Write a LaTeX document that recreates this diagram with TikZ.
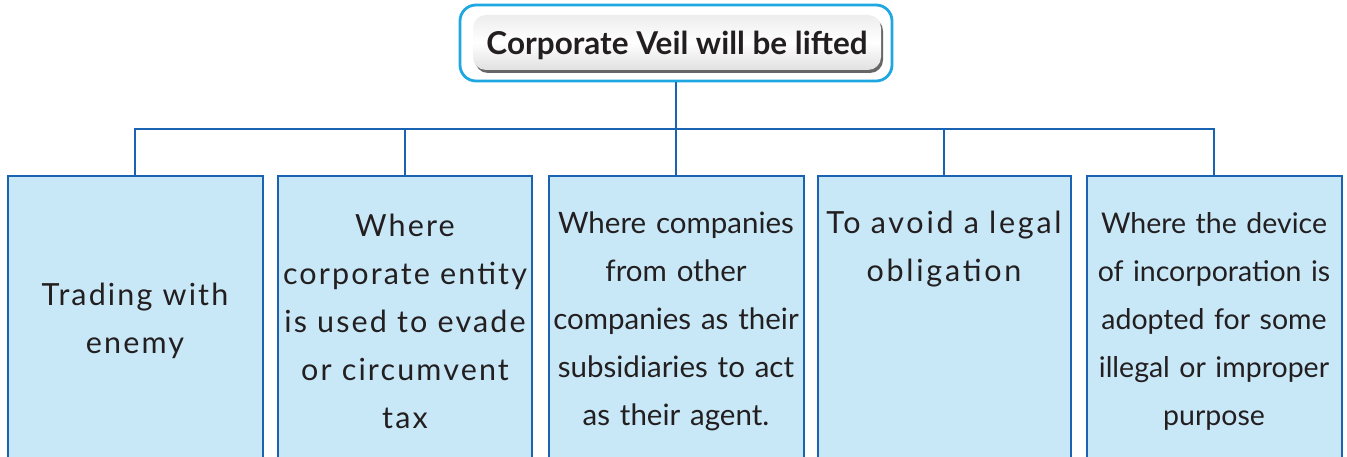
\documentclass[tikz,border=0pt]{standalone}
\usepackage{fontspec}
\setmainfont{Lato}
\newfontfamily\widefont[LetterSpace=7]{Lato}
\usetikzlibrary{shadows,shadings}
\definecolor{boxfill}{HTML}{C8E8F8}
\definecolor{boxline}{HTML}{1A62B2}
\definecolor{topline}{HTML}{1EA7E1}
\definecolor{txt}{HTML}{231F20}
\tikzset{
  leaf/.style={draw=boxline, line width=2.8pt, fill=boxfill},
  conn/.style={draw=boxline, line width=2.8pt},
  leaftext/.style={text=txt, align=center, inner sep=0pt, text width=252pt,
     font=\fontsize{28.5}{48}\selectfont},
  widetext/.style={leaftext, font=\fontsize{30.5}{48}\selectfont\widefont},
}
\begin{document}
\begin{tikzpicture}[x=1pt,y=-1pt]
\useasboundingbox (0,0) rectangle (1347,457);
\begin{scope}
\clip (0,0) rectangle (1347,457);
% top box
\draw[draw=topline, line width=2.8pt, fill=white, rounded corners=16pt] (460,5) rectangle (892,81);
\path[rounded corners=13pt, drop shadow={shadow xshift=2pt, shadow yshift=-3pt, fill=black!70, opacity=0.85},
  top color=gray!14, bottom color=gray!24, middle color=white] (473,15) rectangle (881,70);
\node[text=txt, font=\fontsize{31.5}{36}\selectfont\bfseries] (top) at (677,45) {Corporate Veil will be lifted};
\coordinate (topb) at (676,82);
% leaf boxes
\draw[leaf] (8,176) rectangle (263,460);
\draw[leaf] (278,176) rectangle (532,460);
\draw[leaf] (549,176) rectangle (804,460);
\draw[leaf] (818,176) rectangle (1071,460);
\draw[leaf] (1087,176) rectangle (1342,460);
\coordinate (b1) at (135,176);
\coordinate (b2) at (405,176);
\coordinate (b3) at (676,176);
\coordinate (b4) at (944,176);
\coordinate (b5) at (1214,176);
\coordinate (h) at (676,129);
\draw[conn] (topb) -- (h);
\draw[conn] (b1) |- (h) -| (b5);
\draw[conn] (b2) -- (b2 |- h);
\draw[conn] (b3) -- (h);
\draw[conn] (b4) -- (b4 |- h);
% texts
\node[widetext] (t1) at (135,321) {Trading with\\enemy};
\node[widetext] (t2) at (405,321) {Where\\corporate entity\\is used to evade\\or circumvent\\tax};
\node[leaftext, font=\fontsize{29.5}{48}\selectfont] (t3) at (676,321) {Where companies\\from other\\companies as their\\subsidiaries to act\\as their agent.};
\node[widetext, font=\fontsize{30.5}{48}\selectfont\addfontfeatures{LetterSpace=9}] (t4) at (944,249) {To avoid a legal\\obligation};
\node[leaftext] (t5) at (1214,321) {Where the device\\of incorporation is\\adopted for some\\illegal or improper\\purpose};
\end{scope}
\end{tikzpicture}
\end{document}
